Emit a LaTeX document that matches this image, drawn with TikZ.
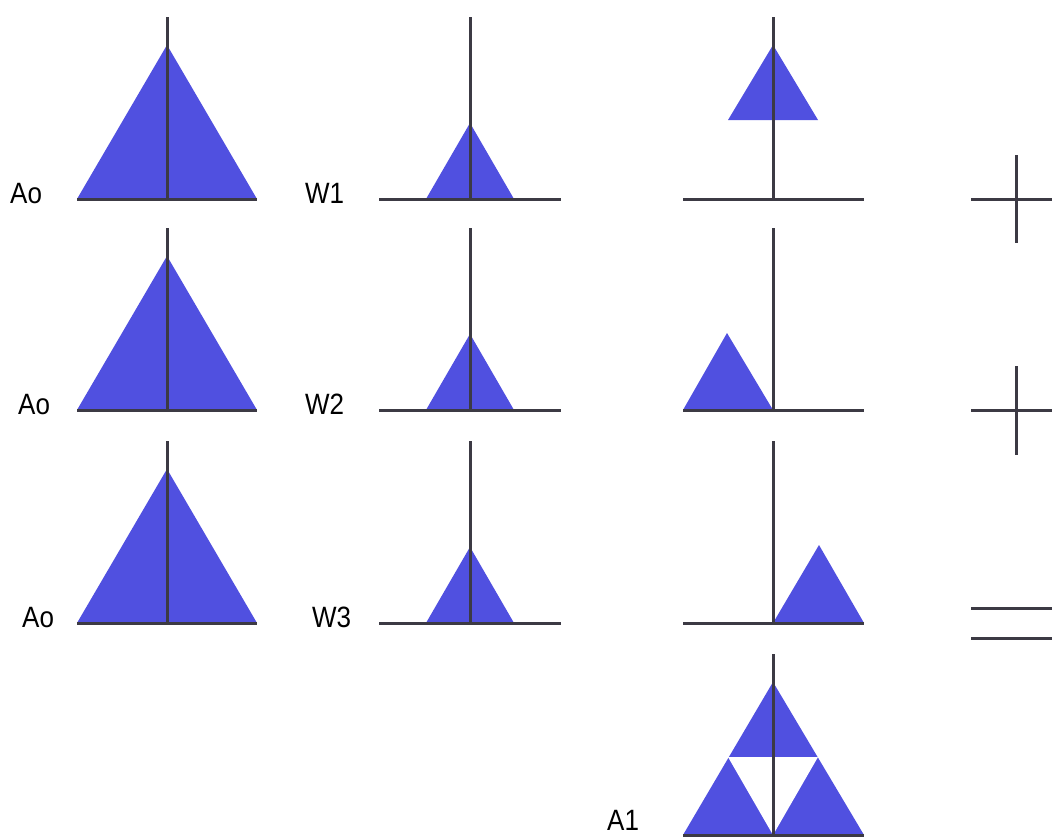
\documentclass[tikz,border=0pt]{standalone}
\usepackage{fontspec}
\setmainfont{Liberation Sans}
\definecolor{triblue}{RGB}{80,80,224}
\definecolor{axisgray}{RGB}{60,58,68}
\tikzset{
  tri/.style={fill=triblue, draw=none},
  hole/.style={fill=white, draw=none},
  axisline/.style={draw=axisgray, line width=3pt},
  lbl/.style={inner sep=0pt, anchor=base west, font=\fontsize{26}{26}\selectfont, text=black},
}
\newcommand{\lbltext}[1]{\scalebox{1}[1.13]{#1}}
\begin{document}
\begin{tikzpicture}[x=1pt,y=-1pt]
\fill[white] (0,0) rectangle (1052,838);
\useasboundingbox (0,0) rectangle (1052,838);

% ---------- column 1: Ao ----------
\foreach \b in {199,410,623}{
  \fill[tri] (77,\b) -- (257,\b) -- (167,\b-154) -- cycle;
  \draw[axisline] (77,\b) -- (257,\b);
  \draw[axisline] (167,\b) -- (167,\b-182);
}
\node[lbl] (ao1) at (10,203) {\lbltext{Ao}};
\node[lbl] (ao2) at (18,414) {\lbltext{Ao}};
\node[lbl] (ao3) at (22,627) {\lbltext{Ao}};

% ---------- column 2: W ----------
\foreach \b in {199,410,623}{
  \fill[tri] (426,\b) -- (514,\b) -- (470,\b-76) -- cycle;
  \draw[axisline] (379,\b) -- (561,\b);
  \draw[axisline] (470,\b) -- (470,\b-182);
}
\node[lbl] (w1) at (305,203) {\lbltext{W1}};
\node[lbl] (w2) at (305,414) {\lbltext{W2}};
\node[lbl] (w3) at (312,627) {\lbltext{W3}};

% ---------- column 3 ----------
% row 1
\fill[tri] (728,120) -- (818,120) -- (773,45) -- cycle;
% row 2
\fill[tri] (683,410) -- (773,410) -- (727,333) -- cycle;
% row 3
\fill[tri] (773,623) -- (864,623) -- (819,545) -- cycle;
\foreach \b in {199,410,623}{
  \draw[axisline] (683,\b) -- (864,\b);
  \draw[axisline] (773,\b) -- (773,\b-182);
}

% A1
\fill[tri] (683,835) -- (864,835) -- (773,682) -- cycle;
\fill[hole] (728,757) -- (818,757) -- (773,835) -- cycle;
\draw[axisline] (683,835) -- (864,835);
\draw[axisline] (773,835) -- (773,654);
\node[lbl] (a1) at (607,830) {\lbltext{A1}};

% ---------- column 4: operators ----------
\draw[axisline] (971,199) -- (1052,199);
\draw[axisline] (1016,155) -- (1016,243);
\draw[axisline] (971,410) -- (1052,410);
\draw[axisline] (1016,366) -- (1016,455);
\draw[axisline] (971,608) -- (1052,608);
\draw[axisline] (971,638) -- (1052,638);
\end{tikzpicture}
\end{document}
